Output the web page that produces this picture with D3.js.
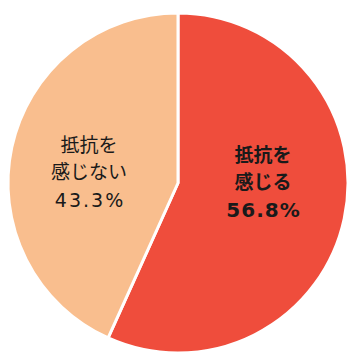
<!DOCTYPE html>
<html><head><meta charset="utf-8">
<script src="https://cdn.jsdelivr.net/npm/d3@7"></script>
<style>html,body{margin:0;padding:0;background:#fff;}svg{display:block;}</style>
</head><body>
<svg id="chart" width="360" height="359"></svg>
<script>
const categories = ["抵抗を感じる", "抵抗を感じない"];
const labelLines = [["抵抗を", "感じる"], ["抵抗を", "感じない"]];
const values = [56.8, 43.3];
const valueLabels = ["56.8%", "43.3%"];
const colors = ["#EF4D3C", "#F9BE8E"];

const svg = d3.select("#chart");
const cx = 178, cy = 183, r = 170;
const g = svg.append("g").attr("transform", `translate(${cx},${cy})`);
const pie = d3.pie().sort(null).value(d => d)(values);
const arc = d3.arc().innerRadius(0).outerRadius(r);
g.selectAll("path").data(pie).enter().append("path")
  .attr("d", arc).attr("fill", (d, i) => colors[i])
  .attr("stroke", "#fff").attr("stroke-width", 3).attr("stroke-linejoin", "round");

const labelPos = [[85, -28], [-89, -38]];
const fontSizes = [19, 19];
const numSizes = [20, 19];
const numSpacing = [1, 2];
pie.forEach((d, i) => {
  const t = g.append("text")
    .attr("text-anchor", "middle")
    .attr("font-family", "'Noto Sans CJK JP', sans-serif")
    .attr("font-weight", i === 0 ? "bold" : "normal")
    .attr("fill", "#1a1a1a");
  labelLines[i].forEach((ln, j) => {
    t.append("tspan").attr("x", labelPos[i][0]).attr("y", labelPos[i][1] + j * 27 + 7)
      .attr("font-size", fontSizes[i]).text(ln);
  });
  t.append("tspan").attr("x", labelPos[i][0] + numSpacing[i] / 2).attr("y", labelPos[i][1] + 2 * 27 + 8)
    .attr("font-family", "'DejaVu Sans', sans-serif")
    .attr("letter-spacing", numSpacing[i])
    .attr("font-size", numSizes[i]).text(valueLabels[i]);
});
</script>
</body></html>
